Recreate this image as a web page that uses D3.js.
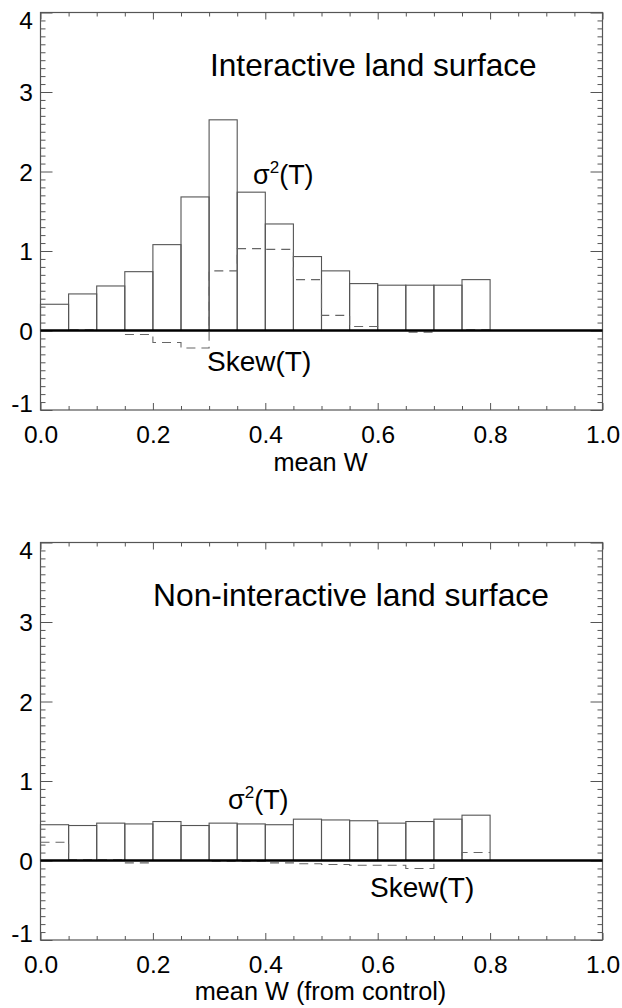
<!DOCTYPE html>
<html>
<head>
<meta charset="utf-8">
<script src="https://cdn.jsdelivr.net/npm/d3@7"></script>
<style>
  body { margin: 0; background: #fff; }
  svg text { font-family: "Liberation Sans", Arial, Helvetica, sans-serif; fill: #000; }
  .tick line { stroke: #555; stroke-width: 1; }
  .domain { display: none; }
</style>
</head>
<body>
<div id="chart"></div>
<script>
// lower edge of each W bin (width 0.05)
var binStart = [0.00, 0.05, 0.10, 0.15, 0.20, 0.25, 0.30, 0.35, 0.40, 0.45, 0.50, 0.55, 0.60, 0.65, 0.70, 0.75];
var binWidth = 0.05;

// interactive land surface
var varInteractive  = [0.33, 0.46, 0.56, 0.74, 1.08, 1.68, 2.65, 1.74, 1.34, 0.93, 0.75, 0.59, 0.57, 0.57, 0.57, 0.64];
var skewInteractive = [0.00, 0.01, 0.00, -0.05, -0.15, -0.22, 0.75, 1.03, 1.02, 0.64, 0.19, 0.05, 0.00, -0.02, 0.00, 0.01];

// non-interactive land surface
var varNonInteractive  = [0.45, 0.44, 0.47, 0.46, 0.49, 0.44, 0.47, 0.46, 0.45, 0.52, 0.51, 0.50, 0.47, 0.49, 0.52, 0.57];
var skewNonInteractive = [0.23, 0.01, 0.01, -0.03, 0.00, 0.00, -0.01, -0.01, -0.03, -0.04, -0.05, -0.06, -0.06, -0.10, 0.00, 0.10];

var xMajor = [0, 0.2, 0.4, 0.6, 0.8, 1.0];
var yMajor = [-1, 0, 1, 2, 3, 4];

var width = 622, height = 1008;

var svg = d3.select("#chart").append("svg")
    .attr("width", width)
    .attr("height", height);

function makePanel(top, bottom, varVals, skewVals, opts) {

    var left = 40.5, right = 602.5;

    var x = d3.scaleLinear().domain([0, 1]).range([left, right]);
    var y = d3.scaleLinear().domain([-1, 4]).range([bottom, top]);

    var g = svg.append("g");

    var xMinor = d3.range(0, 21).filter(i => i % 4 != 0).map(i => i / 20);
    var yMinor = d3.range(-10, 41).filter(i => i % 10 != 0).map(i => i / 10);

    // ticks, all pointing inwards
    g.append("g").attr("transform", "translate(0," + bottom + ")")
        .call(d3.axisBottom(x).tickValues(xMajor).tickSize(-7).tickPadding(15.5).tickFormat(d3.format(".1f")))
        .selectAll("text").style("font-size", "24.5px");
    g.append("g").attr("transform", "translate(0," + bottom + ")")
        .call(d3.axisBottom(x).tickValues(xMinor).tickSize(-4).tickFormat(""));
    g.append("g").attr("transform", "translate(0," + top + ")")
        .call(d3.axisTop(x).tickValues(xMajor).tickSize(-7).tickFormat(""));
    g.append("g").attr("transform", "translate(0," + top + ")")
        .call(d3.axisTop(x).tickValues(xMinor).tickSize(-4).tickFormat(""));

    var yAx = g.append("g").attr("transform", "translate(" + left + ",0)")
        .call(d3.axisLeft(y).tickValues(yMajor).tickSize(-12).tickPadding(7.5).tickFormat(d => String(d)));
    yAx.selectAll("text").style("font-size", "24.5px")
        .attr("dy", function(d) {
            if (d == 4) return "0.66em";   // clamped inside frame like the original
            if (d == -1) return "0.06em";
            return "0.36em";
        });
    g.append("g").attr("transform", "translate(" + left + ",0)")
        .call(d3.axisLeft(y).tickValues(yMinor).tickSize(-5).tickFormat(""));
    g.append("g").attr("transform", "translate(" + right + ",0)")
        .call(d3.axisRight(y).tickValues(yMajor).tickSize(-12).tickFormat(""));
    g.append("g").attr("transform", "translate(" + right + ",0)")
        .call(d3.axisRight(y).tickValues(yMinor).tickSize(-5).tickFormat(""));

    // frame
    g.append("rect")
        .attr("x", left).attr("y", top)
        .attr("width", right - left).attr("height", bottom - top)
        .attr("fill", "none").attr("stroke", "#555").attr("stroke-width", 1.2);

    // variance histogram
    g.append("g").selectAll("rect")
        .data(binStart)
        .enter().append("rect")
            .attr("x", (d) => x(d))
            .attr("y", (d, i) => y(varVals[i]))
            .attr("width", x(binWidth) - x(0))
            .attr("height", (d, i) => y(0) - y(varVals[i]))
            .attr("fill", "none")
            .attr("stroke", "#555")
            .attr("stroke-width", 1.1);

    // skewness as dashed step line
    var pts = [];
    binStart.forEach(function(d, i) {
        pts.push([d, skewVals[i]]);
        pts.push([d + binWidth, skewVals[i]]);
    });
    g.append("path")
        .datum(pts)
        .attr("fill", "none")
        .attr("stroke", "#666")
        .attr("stroke-width", 1.1)
        .attr("stroke-dasharray", "9,6")
        .attr("d", d3.line().x(d => x(d[0])).y(d => y(d[1])));

    // zero line
    g.append("line")
        .attr("x1", left).attr("x2", right)
        .attr("y1", y(0)).attr("y2", y(0))
        .attr("stroke", "#000").attr("stroke-width", 2.6);

    // labels
    g.append("text")
        .attr("x", opts.titleX).attr("y", opts.titleY)
        .style("font-size", opts.titleSize)
        .text(opts.title);

    var sig = g.append("text")
        .attr("x", opts.sigX).attr("y", opts.sigY)
        .style("font-size", "27px");
    sig.append("tspan").text("σ");
    sig.append("tspan").attr("dy", -11).style("font-size", "17px").text("2");
    sig.append("tspan").attr("dy", 11).text("(T)");

    g.append("text")
        .attr("x", opts.skewX).attr("y", opts.skewY)
        .style("font-size", "28px")
        .text("Skew(T)");

    g.append("text")
        .attr("x", (left + right) / 2 - 1).attr("y", opts.xTitleY)
        .attr("text-anchor", "middle")
        .style("font-size", "25.3px")
        .text(opts.xTitle);
}

makePanel(12.5, 410, varInteractive, skewInteractive, {
    title: "Interactive land surface", titleX: 210, titleY: 76, titleSize: "31.6px",
    sigX: 253, sigY: 184,
    skewX: 207, skewY: 371,
    xTitle: "mean W", xTitleY: 471
});

makePanel(542.5, 940, varNonInteractive, skewNonInteractive, {
    title: "Non-interactive land surface", titleX: 153, titleY: 606, titleSize: "31.8px",
    sigX: 228, sigY: 809,
    skewX: 370, skewY: 897,
    xTitle: "mean W (from control)", xTitleY: 1000
});
</script>
</body>
</html>
